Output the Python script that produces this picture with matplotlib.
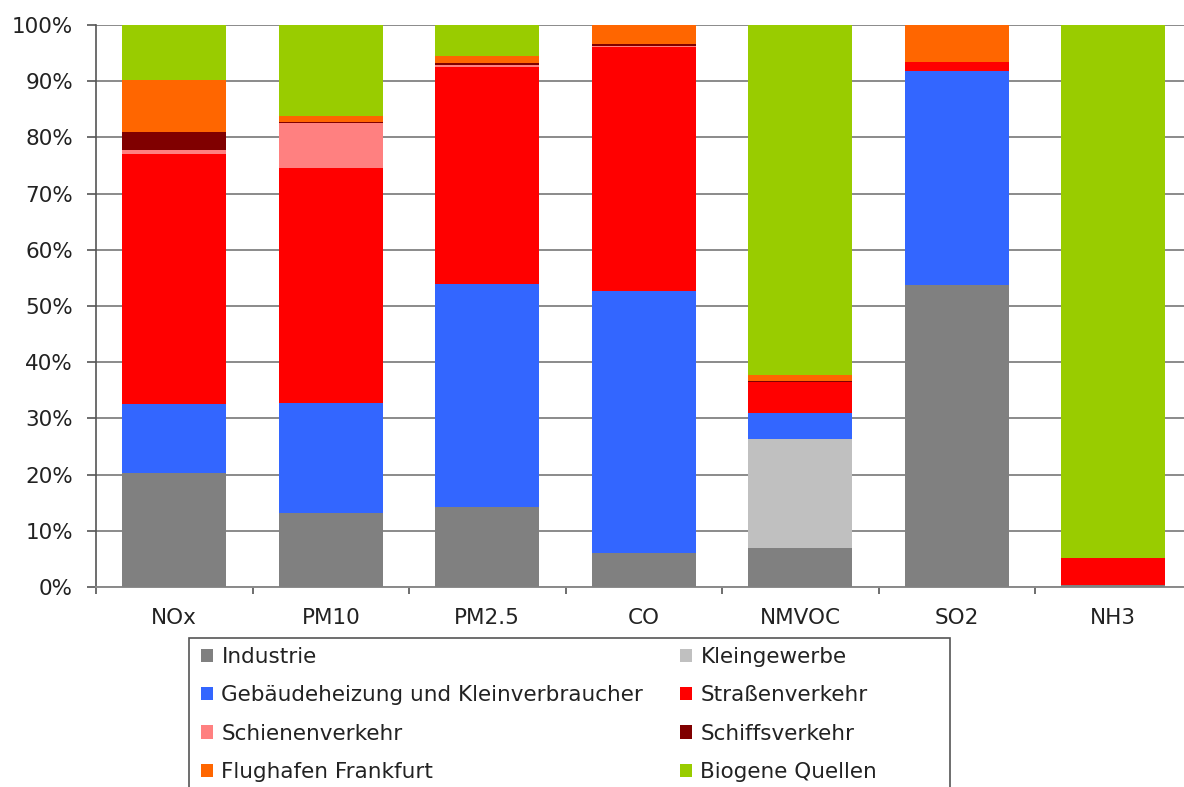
import matplotlib
matplotlib.use("Agg")
import matplotlib.pyplot as plt
from matplotlib.patches import Patch, Rectangle
import numpy as np

plt.rcParams['font.family'] = ['DejaVu Sans']

categories = ["NOx", "PM10", "PM2.5", "CO", "NMVOC", "SO2", "NH3"]

sources = ["Industrie", "Kleingewerbe", "Gebäudeheizung und Kleinverbraucher",
           "Straßenverkehr", "Schienenverkehr", "Schiffsverkehr",
           "Flughafen Frankfurt", "Biogene Quellen"]

# shares in percent per pollutant
industrie      = [20.3, 13.2, 14.2,  6.0,  6.9, 53.7, 0.3]
kleingewerbe   = [ 0.0,  0.0,  0.0,  0.0, 19.4,  0.0, 0.0]
gebaeude       = [12.3, 19.5, 39.7, 46.7,  4.6, 38.2, 0.0]
strasse        = [44.4, 41.9, 38.7, 43.4,  5.6,  1.6, 4.9]
schiene        = [ 0.8,  7.9,  0.2,  0.1,  0.0,  0.0, 0.0]
schiff         = [ 3.1,  0.3,  0.4,  0.5,  0.1,  0.0, 0.0]
flughafen      = [ 9.3,  1.0,  1.3,  3.3,  1.2,  6.5, 0.0]
biogen         = [ 9.8, 16.2,  5.5,  0.0, 62.2,  0.0, 94.8]

colors = ["#808080", "#C0C0C0", "#3366FF", "#FF0000",
          "#FF8080", "#800000", "#FF6600", "#99CC00"]

series = [industrie, kleingewerbe, gebaeude, strasse,
          schiene, schiff, flughafen, biogen]

W, H = 1184, 787
fig = plt.figure(figsize=(W / 100, H / 100), dpi=100)
ax = fig.add_axes([96 / W, 200 / H, 1095.5 / W, 562 / H])

x = np.arange(len(categories))
bottom = np.zeros(len(categories))
for vals, col, name in zip(series, colors, sources):
    v = np.array(vals)
    ax.bar(x, v, bottom=bottom, width=0.665, color=col, label=name,
           linewidth=0, zorder=3)
    bottom += v

ax.set_xlim(-0.5, len(categories) - 0.5)
ax.set_ylim(0, 100)
ax.set_yticks(np.arange(0, 101, 10))
ax.set_yticklabels([f"{t}%" for t in range(0, 101, 10)])
ax.yaxis.grid(True, color="#8a8a8a", linewidth=1.4, zorder=0)
ax.set_axisbelow(True)

ax.set_xticks(x)
ax.set_xticklabels(categories)
ax.set_xticks(np.arange(-0.5, len(categories), 1), minor=True)
ax.tick_params(axis="x", which="major", length=0, pad=15, labelsize=15.5,
               colors="#222222")
ax.tick_params(axis="x", which="minor", length=5, width=1.2, color="#555555")
ax.tick_params(axis="y", length=6.5, width=1.2, color="#555555", pad=10,
               labelsize=15.5, labelcolor="#222222")

for s in ["top", "right"]:
    ax.spines[s].set_visible(False)
ax.spines["left"].set_color("#555555")
ax.spines["left"].set_linewidth(1.2)
ax.spines["bottom"].set_color("#8a8a8a")
ax.spines["bottom"].set_linewidth(1.4)

# legend box
fig.patches.append(Rectangle((189 / W, -0.05), (950 - 189) / W, 1 - 638 / H + 0.05,
                             transform=fig.transFigure, facecolor="white",
                             edgecolor="#555555", linewidth=1.2, zorder=0))

handles = [Patch(facecolor=c, edgecolor="none") for c in colors]
legend_kw = dict(loc="upper left", frameon=False, fontsize=15.5,
                 handlelength=0.58, handleheight=0.58, handletextpad=0.37,
                 labelspacing=0.85, borderpad=0, borderaxespad=0)
for idxs, x0 in (([0, 2, 4, 6], 201), ([1, 3, 5, 7], 680)):
    leg = fig.legend([handles[i] for i in idxs], [sources[i] for i in idxs],
                     bbox_to_anchor=(x0 / W, 1 - 647 / H), **legend_kw)
    for t in leg.get_texts():
        t.set_color("#222222")

fig.savefig("out.png", dpi=100)
